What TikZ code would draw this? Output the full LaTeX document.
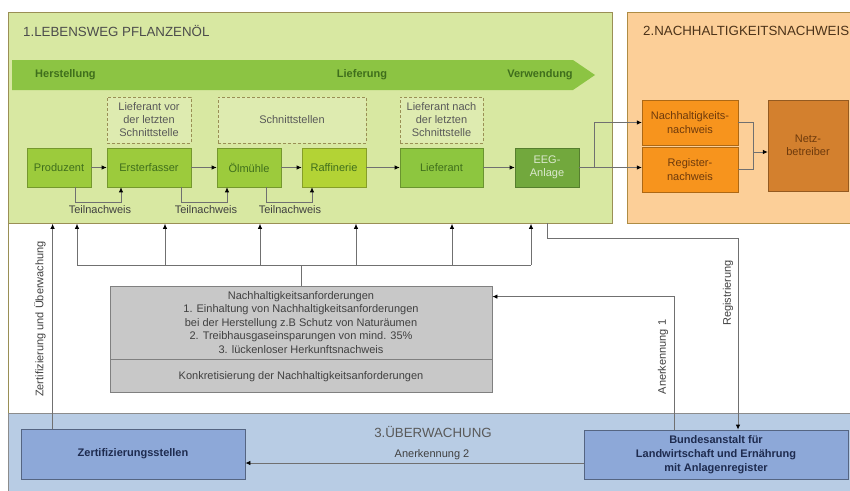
\documentclass[tikz,border=0pt]{standalone}
\usepackage{fontspec}
\setmainfont{Liberation Sans}
\usetikzlibrary{positioning,arrows.meta,calc}
\definecolor{panelgreen}{HTML}{D8E8A2}
\definecolor{framegreen}{HTML}{9A8F55}
\definecolor{bandgreen}{HTML}{8CC443}
\definecolor{boxgreen}{HTML}{9CCB3C}
\definecolor{boxyellow}{HTML}{B3D335}
\definecolor{boxlief}{HTML}{8DC63F}
\definecolor{boxeeg}{HTML}{72A83D}
\definecolor{textgreen}{HTML}{3F6E1C}
\definecolor{panelorange}{HTML}{FCCF98}
\definecolor{boxorange}{HTML}{F7941D}
\definecolor{boxnetz}{HTML}{D3802E}
\definecolor{textbrown}{HTML}{6E3A0C}
\definecolor{panelblue}{HTML}{B8CCE4}
\definecolor{boxblue}{HTML}{8DA8D8}
\definecolor{textblue}{HTML}{1E2B4F}
\definecolor{boxgrey}{HTML}{C8C8C8}
\definecolor{linegrey}{HTML}{707070}
\tikzset{
  base/.style={inner sep=0pt, font=\fontsize{11}{13.5}\selectfont, align=center},
  panel/.style={base, anchor=north west, line width=0.8pt},
  stage/.style={base, draw=#1!75!black, fill=#1, text=textgreen, minimum height=39, line width=0.6pt},
  dbox/.style={base, draw=framegreen, dash pattern=on 3pt off 2pt, fill=white!15!panelgreen,
    minimum height=46, text=black!65, font=\fontsize{11}{13}\selectfont},
  obox/.style={base, draw=boxorange!70!black, fill=boxorange, text=textbrown, minimum width=96, minimum height=45},
  bbox/.style={base, draw=boxblue!60!black, fill=boxblue, text=textblue,
    font=\fontsize{11}{14}\selectfont\bfseries, line width=0.8pt},
  gbox/.style={base, draw=black!50, fill=boxgrey, text=black!75, minimum width=382, line width=0.8pt},
  bandtext/.style={base, text=textgreen, font=\fontsize{11}{13}\selectfont\bfseries},
  title/.style={base, anchor=west, font=\fontsize{13.3}{15}\selectfont},
  lbl/.style={base, text=black!75},
  conn/.style={draw=linegrey, line width=0.8pt},
  tip/.style={-{Latex[length=5pt,width=4.5pt,color=black]}},
}
\begin{document}
\begin{tikzpicture}[x=1pt,y=-1pt]
\useasboundingbox (0,0) rectangle (850,490);
\clip (0,0) rectangle (850,490);

% panels
\node[panel, draw=framegreen, fill=panelgreen, minimum width=604, minimum height=211] (leben) at (8,12) {};
\node[panel, draw=framegreen!80!orange, fill=panelorange, minimum width=230, minimum height=211] (nachweis) at (627,12) {};
\node[panel, draw=black!45, fill=panelblue, minimum width=845, minimum height=80] (ueber) at (8,413) {};
\draw[framegreen, line width=0.8pt] (leben.south west) -- (ueber.north west);

\node[title, text=black!70] (t1) at (23,30.5) {1.LEBENSWEG PFLANZENÖL};
\node[title, text=black!60!brown] (t2) at (643,30.5) {2.NACHHALTIGKEITSNACHWEIS};
\node[title, anchor=center, text=black!65] (t3) at (433,432) {3.ÜBERWACHUNG};

% band
\fill[bandgreen] (12,60) -- (573,60) -- (595,75) -- (573,90) -- (12,90) -- cycle;
\node[bandtext, anchor=west] (herst) at (35,75) {Herstellung};
\node[bandtext] (liefg) at (362,75) {Lieferung};
\node[bandtext] (verw) at (540,75) {Verwendung};

% dashed
\node[dbox, minimum width=84] (vor) at (149,120) {Lieferant vor\\der letzten\\Schnittstelle};
\node[dbox, minimum width=148] (schnitt) at (292,120) {Schnittstellen};
\node[dbox, minimum width=83] (nach) at (441.5,120) {Lieferant nach\\der letzten\\Schnittstelle};

% stages
\node[stage=boxgreen, minimum width=64] (prod) at (59,167.5) {Produzent};
\node[stage=boxgreen, minimum width=84] (erst) at (149,167.5) {Ersterfasser};
\node[stage=boxgreen, minimum width=64] (oel) at (249,167.5) {Ölmühle};
\node[stage=boxyellow, minimum width=64] (raff) at (334,167.5) {Raffinerie};
\node[stage=boxlief, minimum width=83] (lief) at (441.5,167.5) {Lieferant};
\node[stage=boxeeg, minimum width=64, text=boxeeg!25!white] (eeg) at (547,167.5) {EEG-\\Anlage};

\foreach \a/\b in {prod/erst, erst/oel, oel/raff, raff/lief, lief/eeg}
  \draw[conn, tip] (\a) -- (\b);

\draw[conn, tip] ([xshift=16]prod.south) -- ++(0,15) -| ([xshift=-28]erst.south);
\draw[conn, tip] ([xshift=32]erst.south) -- ++(0,15) -| ([xshift=-22]oel.south);
\draw[conn, tip] ([xshift=17]oel.south) -- ++(0,15) -| ([xshift=-22]raff.south);
\node[lbl] (tn1) at (100,210) {Teilnachweis};
\node[lbl] (tn2) at (206,210) {Teilnachweis};
\node[lbl] (tn3) at (290,210) {Teilnachweis};

% nachweise
\node[obox] (nhw) at (690,122.5) {Nachhaltigkeits-\\nachweis};
\node[obox] (rnw) at (690,169.5) {Register-\\nachweis};
\node[base, draw=boxnetz!70!black, fill=boxnetz, text=textbrown, minimum width=80, minimum height=91] (netz) at (808,145.5) {Netz-\\betreiber};

\coordinate (split) at (594,167.5);
\draw[conn] (eeg) -- (split);
\draw[conn, tip] (split) |- (nhw.west);
\draw[conn, tip] (split) -- (split -| rnw.west);
\coordinate (join) at (753,152);
\draw[conn] (nhw.east) -| (join);
\draw[conn] (rnw.east) -| (join);
\draw[conn, tip] (join) -- (join -| netz.west);

% anforderungen
\node[gbox, minimum height=73] (anf) at (301,322.5) {Nachhaltigkeitsanforderungen\\
  1. Einhaltung von Nachhaltigkeitsanforderungen\\
  bei der Herstellung z.B Schutz von Naturäumen\\
  2. Treibhausgaseinsparungen von mind. 35\%\\
  3. lückenloser Herkunftsnachweis};
\node[gbox, minimum height=33, below=0pt of anf] (konk) {Konkretisierung der Nachhaltigkeitsanforderungen};

\coordinate (busL) at (77,265);
\coordinate (busR) at (531,265);
\draw[conn] (busL) -- (busR);
\draw[conn] (anf.north) -- (anf.north |- busL);
\foreach \x in {77,165,260,356,452,531} {
  \coordinate (b) at (\x,265);
  \draw[conn, tip] (b) -- (b |- leben.south);
}

% ueberwachung
\node[bbox, minimum width=224, minimum height=50] (zert) at (133,454) {Zertifizierungsstellen};
\node[bbox, minimum width=264, minimum height=49] (bund) at (716,454.5) {Bundesanstalt für\\Landwirtschaft und Ernährung\\mit Anlagenregister};

\coordinate (zup) at ([xshift=32]zert.north west);
\draw[conn, tip] (zup) -- (zup |- leben.south);
\node[lbl, rotate=90] (zlbl) at (40,319) {Zertifizierung und Überwachung};

\coordinate (rstart) at (547,223);
\coordinate (rend) at ([xshift=22]bund.north);
\draw[conn, tip] (rstart) -- ++(0,15) -| (rend);
\node[lbl, rotate=90] (rlbl) at (728,293) {Registrierung};

\coordinate (a1) at ([xshift=-42]bund.north);
\coordinate (a1end) at ([yshift=-11]anf.north east);
\draw[conn, tip] (a1) |- (a1end);
\node[lbl, rotate=90] (a1lbl) at (663,357) {Anerkennung 1};

\coordinate (a2) at ([yshift=-8.5]bund.west);
\draw[conn, tip] (a2) -- (a2 -| zert.east);
\node[lbl] (a2lbl) at (432,455) {Anerkennung 2};
\end{tikzpicture}
\end{document}
